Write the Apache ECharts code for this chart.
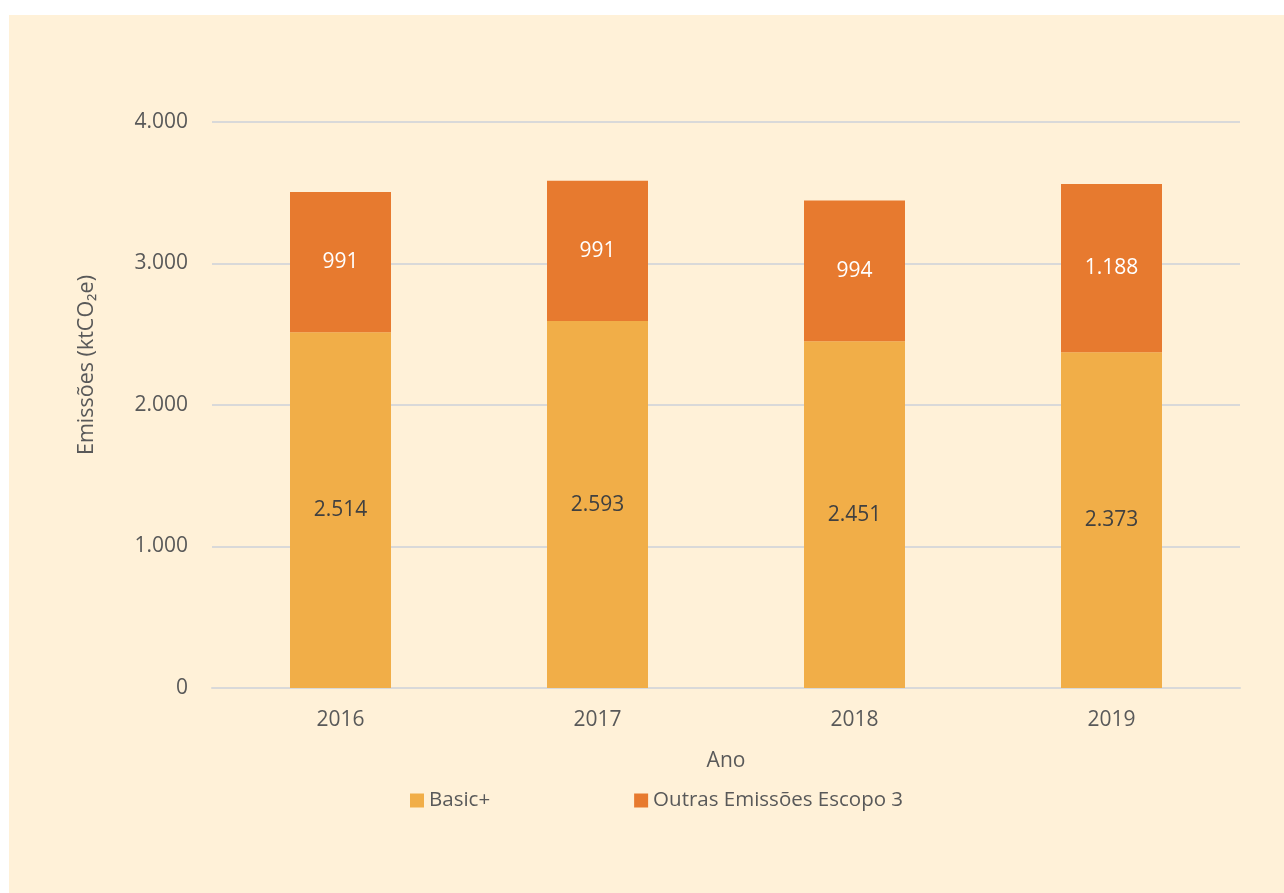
<!DOCTYPE html>
<html>
<head>
<meta charset="utf-8">
<script src="https://cdn.jsdelivr.net/npm/echarts@6/dist/echarts.min.js"></script>
<style>
	html, body { margin: 0; padding: 0; background: #ffffff; }
	#bg { position: absolute; left: 9px; top: 15px; width: 1275px; height: 878px; background: #FFF1D8; }
	#chart { position: absolute; left: 0; top: 0; width: 1284px; height: 893px; }
</style>
</head>
<body>
<div id="bg"></div>
<div id="chart"></div>
<script>
var anos = ['2016', '2017', '2018', '2019'];
var basicPlus = [2514, 2593, 2451, 2373];
var outrasEscopo3 = [991, 991, 994, 1188];
var yTicks = [0, 1000, 2000, 3000, 4000];

var fonte = '"Open Sans", sans-serif';

function formatPt(v) {
	return String(v).replace(/\B(?=(\d{3})+(?!\d))/g, '.');
}

var chart = echarts.init(document.getElementById('chart'));
chart.setOption({
	backgroundColor: 'transparent',
	textStyle: { fontFamily: fonte },
	grid: { left: 212, right: 44, top: 122, bottom: 205 },
	legend: {
		left: 405,
		top: 785,
		itemWidth: 14,
		itemHeight: 14,
		itemGap: 144,
		icon: 'rect',
		textStyle: { color: '#595959', fontSize: 20.5, fontFamily: fonte },
		data: ['Basic+', 'Outras Emissões Escopo 3']
	},
	xAxis: {
		type: 'category',
		data: anos,
		name: 'Ano',
		nameLocation: 'middle',
		nameGap: 63,
		nameTextStyle: { color: '#595959', fontSize: 21 },
		axisLine: { lineStyle: { color: '#D9D9D9', width: 2 } },
		axisTick: { show: false },
		axisLabel: { color: '#595959', fontSize: 21, margin: 22 }
	},
	yAxis: {
		type: 'value',
		min: yTicks[0],
		max: yTicks[yTicks.length - 1],
		interval: 1000,
		axisLine: { show: false },
		axisTick: { show: false },
		splitLine: { lineStyle: { color: '#D9D9D9', width: 2 } },
		axisLabel: { color: '#595959', fontSize: 21, margin: 24, formatter: formatPt }
	},
	graphic: [{
		type: 'text',
		left: 76,
		top: 275,
		rotation: Math.PI / 2,
		style: {
			text: 'Emissões (ktCO₂e)',
			fill: '#595959',
			font: '21.5px ' + fonte
		}
	}],
	series: [{
		name: 'Basic+',
		type: 'bar',
		stack: 'total',
		barWidth: 101,
		data: basicPlus,
		itemStyle: { color: '#F1AE48' },
		label: { show: true, position: 'inside', color: '#404040', fontSize: 21, formatter: p => formatPt(p.value) }
	}, {
		name: 'Outras Emissões Escopo 3',
		type: 'bar',
		stack: 'total',
		barWidth: 101,
		data: outrasEscopo3,
		itemStyle: { color: '#E77A2F' },
		label: { show: true, position: 'inside', color: '#FFFFFF', fontSize: 21, formatter: p => formatPt(p.value) }
	}]
});
</script>
</body>
</html>
